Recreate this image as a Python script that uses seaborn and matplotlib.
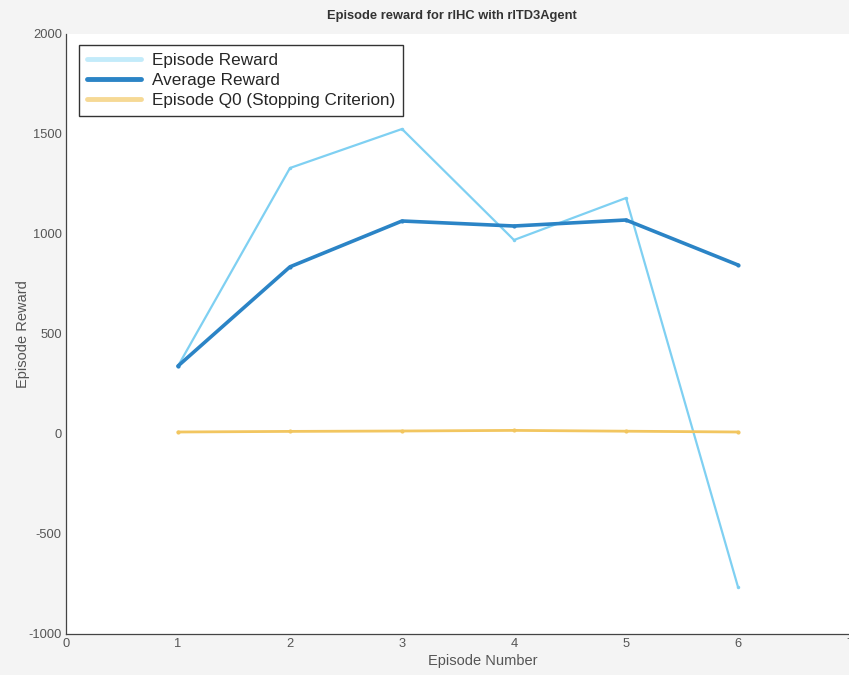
import numpy as np
import pandas as pd
import matplotlib
matplotlib.use("Agg")
import matplotlib.pyplot as plt
import seaborn as sns

episodes = [1, 2, 3, 4, 5, 6]
episode_reward = [340, 1330, 1525, 970, 1180, -765]
average_reward = [340, 836, 1065, 1040, 1070, 845]
episode_q0 = [10, 13, 15, 18, 14, 10]

df = pd.DataFrame({"Episode": episodes, "Episode Reward": episode_reward,
                   "Average Reward": average_reward,
                   "Episode Q0 (Stopping Criterion)": episode_q0})

sns.set_style("white")
plt.rcParams['font.family'] = ['Liberation Sans', 'DejaVu Sans']
plt.rcParams['axes.unicode_minus'] = False

fig = plt.figure(figsize=(8.49, 6.75), dpi=100, facecolor="#f4f4f4")
ax = fig.add_axes([66 / 849, 41 / 675, 784 / 849, 600 / 675])
ax.set_facecolor("white")

# draw each series
sns.lineplot(data=df, x="Episode", y="Episode Reward", ax=ax, color="#7fd0f2",
             lw=1.6, marker="o", markersize=2.5, markeredgewidth=0, label="Episode Reward")
sns.lineplot(data=df, x="Episode", y="Average Reward", ax=ax, color="#2b84c6",
             lw=2.6, marker="o", markersize=3, markeredgewidth=0, label="Average Reward")
sns.lineplot(data=df, x="Episode", y="Episode Q0 (Stopping Criterion)", ax=ax,
             color="#f2c660", lw=2, marker="o", markersize=3, markeredgewidth=0,
             label="Episode Q0 (Stopping Criterion)")

ax.set_xlim(0, 7)
ax.set_ylim(-1000, 2000)
ax.set_xticks(range(0, 8))
ax.set_yticks(range(-1000, 2001, 500))
ax.tick_params(direction="in", length=5, colors="#555555", labelsize=9.3, width=0.8, pad=3)
for s in ["top", "right"]:
    ax.spines[s].set_visible(False)
for s in ["left", "bottom"]:
    ax.spines[s].set_color("#444444")
    ax.spines[s].set_linewidth(0.9)

ax.set_xlabel("Episode Number", color="#555555", fontsize=10.5)
ax.set_ylabel("Episode Reward", color="#555555", fontsize=10.5)
ax.xaxis.set_label_coords(0.5 + 25 / 784, -0.034)
ax.yaxis.set_label_coords(-0.046, 0.5)
fig.text(0.5 + 27 / 849, 1 - 16 / 675, "Episode reward for rlHC with rlTD3Agent",
         ha="center", va="center", fontsize=9.3, fontweight="bold", color="#333333")

leg = ax.legend(loc="upper left", bbox_to_anchor=(0.01, 0.99),
                prop={"family": "Liberation Sans", "size": 12.3},
                frameon=True, fancybox=False, handlelength=3.2, borderpad=0.45,
                labelspacing=0.3, handletextpad=0.6, borderaxespad=0.3)
leg.get_frame().set_edgecolor("black")
leg.get_frame().set_linewidth(1.0)
for line, c in zip(leg.get_lines(), ["#c3ebfa", "#2b84c6", "#f6d995"]):
    line.set_color(c)
    line.set_linewidth(3.5)
    line.set_marker("")

fig.savefig("out.png", dpi=100, facecolor=fig.get_facecolor())
